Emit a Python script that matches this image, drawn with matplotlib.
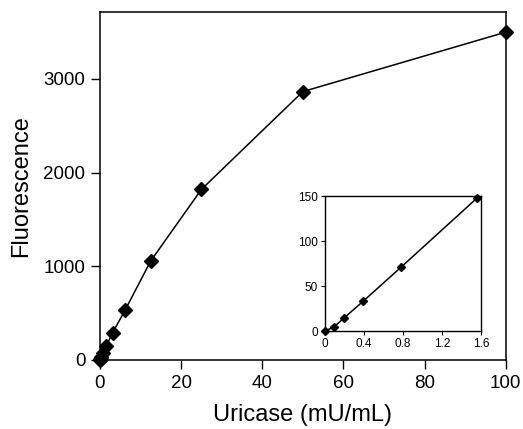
import matplotlib
matplotlib.use('Agg')
import matplotlib.pyplot as plt

plt.rcParams['font.family'] = ['Liberation Sans', 'DejaVu Sans']

# main curve
uricase = [0, 0.098, 0.195, 0.39, 0.78, 1.56, 3.125, 6.25, 12.5, 25, 50, 100]
fluor = [0, 5, 14, 33, 71, 148, 290, 535, 1055, 1820, 2865, 3500]

# inset (low range)
ins_x = [0, 0.098, 0.195, 0.39, 0.78, 1.56]
ins_y = [0, 5, 14.5, 33, 71, 148]

fig = plt.figure(figsize=(5.23, 4.29), dpi=100)
ax = fig.add_axes([0.191, 0.161, 0.776, 0.811])
ax.plot(uricase, fluor, color='black', lw=1.1, marker='D', ms=7.5, clip_on=False, zorder=3)
ax.set_xlim(0, 100)
ax.set_ylim(0, 3715)
ax.set_xticks([0, 20, 40, 60, 80, 100])
ax.set_yticks([0, 1000, 2000, 3000])
ax.tick_params(direction='out', length=6.5, width=1, labelsize=13.5, pad=4)
ax.set_xlabel('Uricase (mU/mL)', fontsize=17, labelpad=9)
ax.set_ylabel('Fluorescence', fontsize=17, labelpad=8)
for s in ax.spines.values():
    s.set_linewidth(1.1)

axin = fig.add_axes([0.621, 0.228, 0.299, 0.315])
axin.plot(ins_x, ins_y, color='black', lw=1.1, marker='D', ms=4, clip_on=False, zorder=3)
axin.set_xlim(0, 1.6)
axin.set_ylim(0, 150)
axin.set_xticks([0, 0.4, 0.8, 1.2, 1.6])
axin.set_xticklabels(['0', '0.4', '0.8', '1.2', '1.6'])
axin.set_yticks([0, 50, 100, 150])
axin.tick_params(direction='out', length=3, width=0.8, labelsize=8.5, pad=2)
for s in axin.spines.values():
    s.set_linewidth(1)

fig.savefig('out.png', dpi=100)
